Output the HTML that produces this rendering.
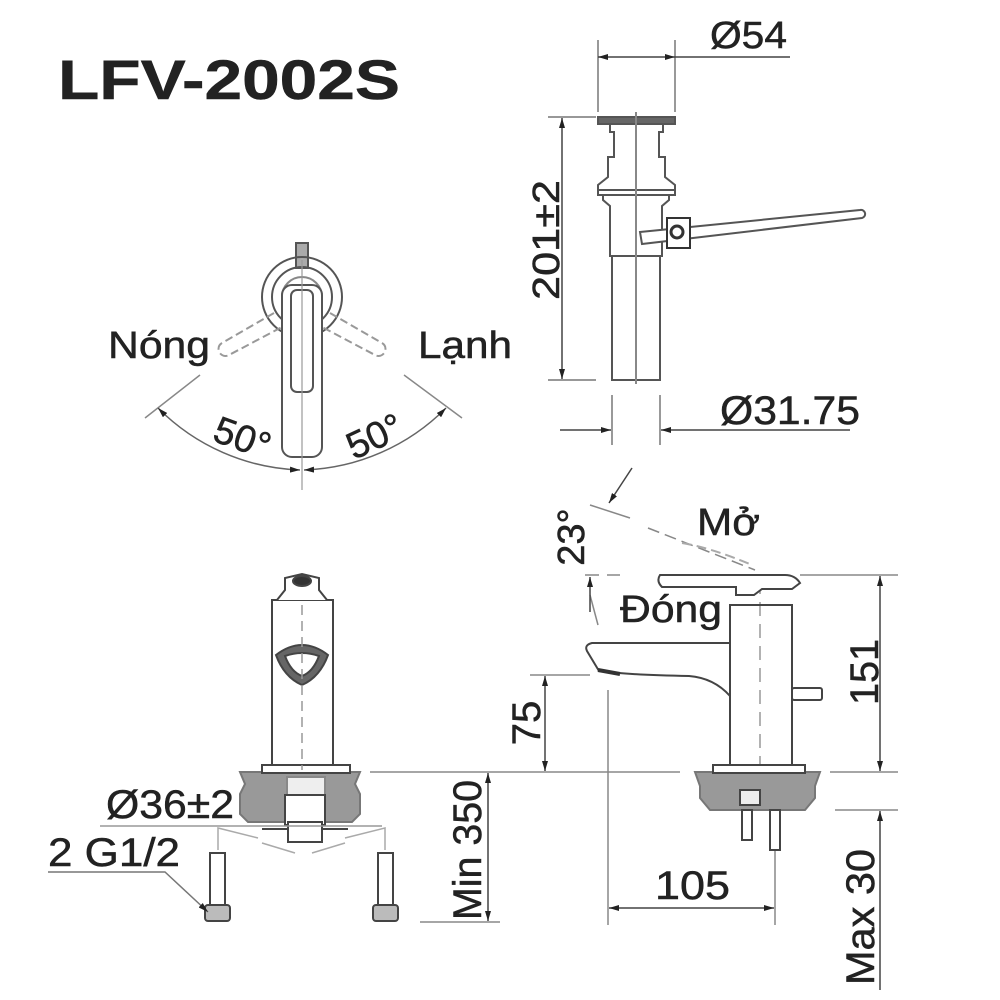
<!DOCTYPE html>
<html><head><meta charset="utf-8"><style>
html,body{margin:0;padding:0;background:#fff;}
svg{display:block}
text{font-family:"Liberation Sans",sans-serif;fill:#222;stroke:#222;stroke-width:0.5}
</style></head><body>
<svg width="1000" height="1000" viewBox="0 0 1000 1000" xmlns="http://www.w3.org/2000/svg">
<defs>
<marker id="a" viewBox="0 0 10 6" refX="10" refY="3" markerWidth="10" markerHeight="6" orient="auto-start-reverse" markerUnits="userSpaceOnUse"><path d="M0,0 L10,3 L0,6 z" fill="#222"/></marker>
</defs>
<text x="58" y="99" font-size="56" font-weight="bold" fill="#111" textLength="342" lengthAdjust="spacingAndGlyphs">LFV-2002S</text>

<!-- Drain top right -->
<g stroke="#777" stroke-width="1.5" fill="none">
<line x1="598" y1="40" x2="598" y2="112"/><line x1="675" y1="40" x2="675" y2="112"/>
<line x1="548" y1="117" x2="596" y2="117"/><line x1="548" y1="380" x2="596" y2="380"/>
<line x1="612" y1="395" x2="612" y2="445"/><line x1="660" y1="395" x2="660" y2="445"/>
</g>
<line x1="598" y1="57" x2="675" y2="57" stroke="#444" stroke-width="1.5" marker-start="url(#a)" marker-end="url(#a)"/>
<line x1="675" y1="57" x2="790" y2="57" stroke="#444" stroke-width="1.5"/>
<text x="710" y="48" font-size="38" textLength="77" lengthAdjust="spacingAndGlyphs">Ø54</text>
<line x1="562" y1="118" x2="562" y2="379" stroke="#444" stroke-width="1.5" marker-start="url(#a)" marker-end="url(#a)"/>
<text transform="translate(559,240) rotate(-90)" text-anchor="middle" font-size="38" textLength="120" lengthAdjust="spacingAndGlyphs">201±2</text>
<line x1="560" y1="430" x2="611" y2="430" stroke="#444" stroke-width="1.5" marker-end="url(#a)"/>
<line x1="850" y1="430" x2="661" y2="430" stroke="#444" stroke-width="1.5" marker-end="url(#a)"/>
<text x="720" y="424" font-size="40" textLength="140" lengthAdjust="spacingAndGlyphs">Ø31.75</text>
<g stroke="#555" stroke-width="2" fill="none">
<rect x="598" y="117" width="77" height="7" fill="#666"/>
<path d="M610,124 v8 h4 v25 h-6 v20 l-10,8 v10 h77 v-10 l-10,-8 v-20 h-6 v-25 h4 v-8"/>
<line x1="598" y1="190" x2="675" y2="190"/>
<path d="M603,195 v5 l7,6 v50 h52 v-50 l7,-6 v-5"/>
<rect x="612" y="256" width="48" height="124"/>
<line x1="636" y1="112" x2="636" y2="384" stroke="#888"/>
<path d="M640,232 L860,210 a4,4 0 0 1 2,8 L642,244 z" fill="#fff"/>
<rect x="667" y="218" width="23" height="30" fill="#fff" stroke="#333"/>
<circle cx="677" cy="232" r="6" fill="#fff" stroke="#333" stroke-width="3"/>
</g>

<!-- Top view handle -->
<g stroke="#555" stroke-width="2" fill="none">
<rect x="296" y="243" width="12" height="25" fill="#aaa"/>
<circle cx="302" cy="297" r="40"/>
<circle cx="302" cy="297" r="30"/>
<circle cx="302" cy="297" r="20" stroke="#888"/>
<rect x="282" y="285" width="40" height="172" rx="10" fill="#fff"/>
<rect x="291" y="290" width="22" height="102" rx="6"/>
<g stroke="#999" stroke-dasharray="8 4">
<path d="M274,313 L222,343 a6,6 0 0 0 7,12 L282,327"/>
<path d="M330,313 L382,343 a6,6 0 0 1 -7,12 L322,327"/>
</g>
<line x1="302" y1="260" x2="302" y2="490" stroke="#999" stroke-width="1.2"/>
<line x1="200" y1="375" x2="145" y2="418" stroke="#888" stroke-width="1.5"/>
<line x1="404" y1="375" x2="462" y2="418" stroke="#888" stroke-width="1.5"/>
</g>
<path d="M158,408 A210,210 0 0 0 300,470" stroke="#666" stroke-width="1.5" fill="none" marker-start="url(#a)" marker-end="url(#a)"/>
<path d="M446,408 A210,210 0 0 1 304,470" stroke="#666" stroke-width="1.5" fill="none" marker-start="url(#a)" marker-end="url(#a)"/>
<text x="108" y="358" font-size="38" textLength="102" lengthAdjust="spacingAndGlyphs">Nóng</text>
<text x="418" y="358" font-size="38" textLength="94" lengthAdjust="spacingAndGlyphs">Lạnh</text>
<text transform="translate(238,450) rotate(20)" text-anchor="middle" font-size="38">50°</text>
<text transform="translate(380,448) rotate(-25)" text-anchor="middle" font-size="38">50°</text>

<!-- Front view bottom-left -->
<g stroke="#444" stroke-width="2" fill="none">
<path d="M240,772 h120 l-5,12 l5,10 v20 l-8,8 h-104 l-8,-8 v-20 l5,-10 z" fill="#999" stroke="#777"/>
<rect x="287" y="777" width="38" height="18" fill="#eee" stroke="#888"/>
<rect x="285" y="795" width="40" height="30" fill="#fff"/>
<rect x="288" y="822" width="34" height="20" fill="#fff"/>
<line x1="262" y1="829" x2="288" y2="829"/><line x1="322" y1="829" x2="348" y2="829"/>
<rect x="262" y="765" width="88" height="8" fill="#fff"/>
<rect x="272" y="600" width="61" height="165" fill="#fff"/>
<path d="M277,600 l8,-10 v-12 l17,-4 l17,4 v12 l8,10" fill="#fff"/>
<ellipse cx="302" cy="581" rx="9" ry="5" fill="#333"/>
<path d="M276,655 q26,-20 52,0 q-8,22 -26,30 q-18,-8 -26,-30 z" fill="#666"/>
<path d="M285,656 q17,-6 34,0 q-6,16 -17,20 q-11,-4 -17,-20z" fill="#fff"/>
<line x1="302" y1="605" x2="302" y2="770" stroke="#999" stroke-dasharray="10 6" stroke-width="1.5"/>
<g stroke="#aaa" stroke-width="1.5">
<path d="M218,850 v-22 l40,10"/><path d="M385,850 v-22 l-40,10"/>
<path d="M262,843 l33,10"/><path d="M345,843 l-33,10"/>
</g>
<rect x="210" y="853" width="15" height="52" fill="#fff"/>
<rect x="205" y="905" width="25" height="16" rx="3" fill="#bbb"/>
<rect x="378" y="853" width="15" height="52" fill="#fff"/>
<rect x="373" y="905" width="25" height="16" rx="3" fill="#bbb"/>
</g>
<line x1="100" y1="826" x2="382" y2="826" stroke="#999" stroke-width="1.5"/>
<text x="106" y="818" font-size="40" textLength="128" lengthAdjust="spacingAndGlyphs">Ø36±2</text>
<text x="48" y="866" font-size="40" textLength="132" lengthAdjust="spacingAndGlyphs">2 G1/2</text>
<path d="M48,872 H165 L208,912" stroke="#777" stroke-width="1.5" fill="none" marker-end="url(#a)"/>
<line x1="370" y1="772" x2="500" y2="772" stroke="#888" stroke-width="1.5"/>
<line x1="420" y1="922" x2="500" y2="922" stroke="#888" stroke-width="1.5"/>
<line x1="488" y1="773" x2="488" y2="921" stroke="#444" stroke-width="1.5" marker-start="url(#a)" marker-end="url(#a)"/>
<text transform="translate(481,850) rotate(-90)" text-anchor="middle" font-size="40" textLength="140" lengthAdjust="spacingAndGlyphs">Min 350</text>

<!-- Side view -->
<g stroke="#888" stroke-width="1.5" fill="none">
<line x1="500" y1="772" x2="680" y2="772"/>
<line x1="830" y1="772" x2="898" y2="772"/>
<line x1="530" y1="675" x2="590" y2="675"/>
<line x1="608" y1="690" x2="608" y2="925"/>
<line x1="775" y1="830" x2="775" y2="925"/>
<line x1="800" y1="575" x2="898" y2="575"/>
<line x1="835" y1="810" x2="898" y2="810"/>
<line x1="585" y1="575" x2="620" y2="575" stroke-dasharray="14 8"/>
<line x1="590" y1="505" x2="630" y2="518"/>
<line x1="648" y1="528" x2="755" y2="570" stroke-dasharray="12 6"/>
<line x1="590" y1="595" x2="598" y2="625"/>
<line x1="760" y1="580" x2="760" y2="765" stroke-dasharray="14 8" stroke="#999"/>
</g>
<line x1="880" y1="576" x2="880" y2="771" stroke="#444" stroke-width="1.5" marker-start="url(#a)" marker-end="url(#a)"/>
<text transform="translate(878,672) rotate(-90)" text-anchor="middle" font-size="40" textLength="66" lengthAdjust="spacingAndGlyphs">151</text>
<line x1="545" y1="676" x2="545" y2="771" stroke="#444" stroke-width="1.5" marker-start="url(#a)" marker-end="url(#a)"/>
<text transform="translate(540,723) rotate(-90)" text-anchor="middle" font-size="40">75</text>
<line x1="609" y1="908" x2="774" y2="908" stroke="#444" stroke-width="1.5" marker-start="url(#a)" marker-end="url(#a)"/>
<text x="655" y="899" font-size="40" textLength="75" lengthAdjust="spacingAndGlyphs">105</text>
<line x1="880" y1="990" x2="880" y2="811" stroke="#444" stroke-width="1.5" marker-end="url(#a)"/>
<text transform="translate(874,917) rotate(-90)" text-anchor="middle" font-size="40" textLength="136" lengthAdjust="spacingAndGlyphs">Max 30</text>
<line x1="590" y1="612" x2="590" y2="577" stroke="#444" stroke-width="1.5" marker-end="url(#a)"/>
<line x1="632" y1="468" x2="609" y2="503" stroke="#444" stroke-width="1.5" marker-end="url(#a)"/>
<text transform="translate(584,537) rotate(-90)" text-anchor="middle" font-size="38">23°</text>
<text x="697" y="535" font-size="38" textLength="63" lengthAdjust="spacingAndGlyphs">Mở</text>
<text x="620" y="622" font-size="38" textLength="102" lengthAdjust="spacingAndGlyphs">Đóng</text>
<g stroke="#444" stroke-width="2" fill="none">
<path d="M695,772 h125 l-5,14 v12 l-10,12 h-95 l-10,-12 v-12 z" fill="#999" stroke="#777"/>
<rect x="740" y="790" width="20" height="15" fill="#eee"/>
<rect x="742" y="810" width="10" height="30" fill="#fff"/>
<rect x="770" y="810" width="10" height="40" fill="#fff"/>
<rect x="713" y="765" width="92" height="8" fill="#fff"/>
<path d="M730,765 V643 H592 q-8,2 -5,8 l12,20 q30,4 90,5 q25,2 41,20" fill="#fff"/>
<path d="M598,670 l22,4" stroke="#333" stroke-width="4"/>
<rect x="792" y="688" width="30" height="12" rx="2" fill="#fff"/>
<path d="M730,643 V605 h62 V765" fill="none"/>
<line x1="730" y1="605" x2="792" y2="605"/>
<path d="M660,575 h125 q10,0 15,8 l-8,6 h-30 l-8,6 h-18 v-8 h-74 q-6,-6 -2,-12 z" fill="#fff"/>
<path d="M682,543 q30,5 70,22" stroke="#aaa" stroke-dasharray="10 5"/>
</g>
</svg>
</body></html>
